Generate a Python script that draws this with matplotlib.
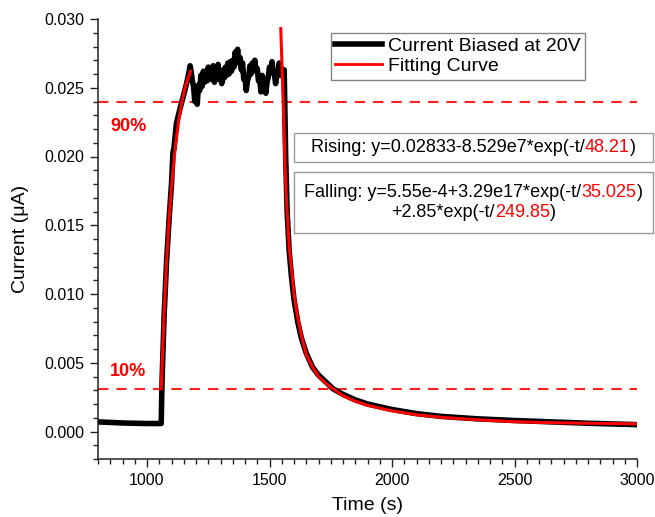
import matplotlib
matplotlib.use("Agg")
import matplotlib.pyplot as plt
from matplotlib.patches import Rectangle
from matplotlib.ticker import MultipleLocator, FormatStrFormatter
from matplotlib.offsetbox import TextArea, HPacker, VPacker, AnchoredOffsetbox

plt.rcParams["font.family"] = ["Liberation Sans", "DejaVu Sans"]

meas_t = [800, 850, 900, 950, 1000, 1030, 1058, 1060, 1062, 1070, 1080, 1090,
          1100, 1106, 1110, 1120, 1135, 1150, 1160, 1170, 1176,
          1180, 1185, 1190, 1195, 1200, 1205, 1210, 1215, 1220, 1225, 1230,
          1235, 1240, 1245, 1250, 1255, 1260, 1265, 1270, 1275, 1280, 1285,
          1290, 1295, 1300, 1305, 1310, 1315, 1320, 1325, 1330, 1335, 1340,
          1345, 1350, 1355, 1360, 1365, 1370, 1375, 1380, 1385, 1390, 1395,
          1400, 1405, 1410, 1415, 1420, 1425, 1430, 1435, 1440, 1445, 1450,
          1455, 1460, 1465, 1470, 1475, 1480, 1485, 1490, 1495, 1500, 1505,
          1510, 1515, 1520, 1525, 1530, 1535, 1540, 1545, 1550, 1555, 1560,
          1566, 1572, 1580, 1590, 1600, 1615, 1630, 1650, 1675, 1700, 1730,
          1760, 1800, 1850, 1900, 2000, 2100, 2200, 2350, 2500, 2650, 2800,
          3000]
meas_i = [0.00070, 0.00066, 0.00062, 0.00060, 0.00058, 0.00058, 0.00058,
          0.0025, 0.0040, 0.0085, 0.0124, 0.0154, 0.0180, 0.0203, 0.0206,
          0.0224, 0.0235, 0.0245, 0.0252, 0.0260, 0.0266,
          0.0262, 0.0255, 0.0251, 0.0240, 0.0246, 0.0238, 0.0252, 0.0248,
          0.0259, 0.0251, 0.0262, 0.0254, 0.0260, 0.0255, 0.0265, 0.0256,
          0.0263, 0.0258, 0.0266, 0.0254, 0.0262, 0.0258, 0.0267, 0.0256,
          0.0261, 0.0253, 0.0263, 0.0257, 0.0265, 0.0259, 0.0268, 0.0260,
          0.0269, 0.0262, 0.0270, 0.0265, 0.0276, 0.0271, 0.0278, 0.0268,
          0.0272, 0.0263, 0.0268, 0.0256, 0.0258, 0.0248, 0.0255, 0.0258,
          0.0266, 0.0260, 0.0268, 0.0263, 0.0270, 0.0262, 0.0264, 0.0255,
          0.0257, 0.0247, 0.0259, 0.0252, 0.0256, 0.0246, 0.0254, 0.0258,
          0.0265, 0.0261, 0.0269, 0.0262, 0.0260, 0.0253, 0.0260, 0.0262,
          0.0268, 0.0259, 0.0264, 0.0258, 0.0263,
          0.0200, 0.0160, 0.0132, 0.0112, 0.0096, 0.0080, 0.0068, 0.0057,
          0.0047, 0.0041, 0.0036, 0.0031, 0.0027, 0.0023, 0.0020, 0.0016,
          0.00130, 0.00110, 0.00092, 0.00080, 0.00070, 0.00060, 0.00050]

# fitted curves
rise_t = [1058, 1070, 1080, 1090, 1100, 1115, 1130, 1145, 1160, 1178]
rise_i = [0.0031, 0.0087, 0.0124, 0.0154, 0.0178, 0.0206, 0.0227, 0.0242,
          0.0253, 0.0262]
fall_t = [1546, 1555, 1563, 1570, 1580, 1590, 1600, 1615, 1630, 1650, 1675,
          1700, 1730, 1760, 1800, 1850, 1900, 2000, 2100, 2200, 2350, 2500,
          2650, 2800, 3000]
fall_i = [0.0293, 0.0245, 0.0195, 0.0166, 0.0135, 0.0118, 0.0100, 0.0083,
          0.0070, 0.0056, 0.0047, 0.0040, 0.0035, 0.0031, 0.0026, 0.0022,
          0.0019, 0.0015, 0.00122, 0.00103, 0.00085, 0.00071, 0.00064,
          0.00060, 0.00056]

level_90 = 0.0240
level_10 = 0.0031

rise_eq = [("Rising: y=0.02833-8.529e7*exp(-t/", "black"), ("48.21", "red"), (")", "black")]
fall_eq1 = [("Falling: y=5.55e-4+3.29e17*exp(-t/", "black"), ("35.025", "red"), (")", "black")]
fall_eq2 = [("+2.85*exp(-t/", "black"), ("249.85", "red"), (")", "black")]

W, H = 655, 517
fig = plt.figure(figsize=(W / 100, H / 100), dpi=100)
ax = fig.add_axes([98 / W, 1 - 459 / H, (637 - 98) / W, (459 - 19) / H])

ax.axhline(level_90, color="#ff2020", lw=1.5, ls=(0, (5, 3.8)), zorder=1)
ax.axhline(level_10, color="#ff2020", lw=1.5, ls=(0, (5, 3.8)), zorder=1)
ax.plot(meas_t, meas_i, color="black", lw=4, solid_joinstyle="round",
        label="Current Biased at 20V", zorder=2)
ax.plot(rise_t, rise_i, color="red", lw=2.2, label="Fitting Curve", zorder=3)
ax.plot(fall_t, fall_i, color="red", lw=2.2, zorder=3)

yt = ax.get_yaxis_transform()
ax.text(0.056, 0.0222, "90%", color="red", fontsize=13, fontweight="bold",
        ha="center", va="center", transform=yt)
ax.text(0.056, 0.0044, "10%", color="red", fontsize=13, fontweight="bold",
        ha="center", va="center", transform=yt)

ax.set_xlim(800, 3000)
ax.set_ylim(-0.002, 0.030)
ax.xaxis.set_major_locator(MultipleLocator(500))
ax.xaxis.set_minor_locator(MultipleLocator(50))
ax.yaxis.set_major_locator(MultipleLocator(0.005))
ax.yaxis.set_minor_locator(MultipleLocator(0.001))
ax.yaxis.set_major_formatter(FormatStrFormatter("%.3f"))
ax.set_xticks([1000, 1500, 2000, 2500, 3000])
for side in ("top", "right"):
    ax.spines[side].set_visible(False)
for side in ("left", "bottom"):
    ax.spines[side].set_linewidth(1.1)
    ax.spines[side].set_color("#222222")
ax.tick_params(which="major", direction="out", length=5.8, width=1, labelsize=11.5,
               pad=4, color="#222222")
ax.tick_params(which="minor", direction="out", length=3.6, width=1, color="#222222")

ax.set_xlabel("Time (s)", fontsize=14, labelpad=7)
ax.set_ylabel("Current (\u03bcA)", fontsize=14, labelpad=11)

leg = ax.legend(loc="upper left", bbox_to_anchor=(331 / W, 1 - 33 / H),
                bbox_transform=fig.transFigure, fontsize=14, frameon=True,
                fancybox=False, borderpad=0.22, handlelength=2.4,
                handletextpad=0.3, labelspacing=0.14, borderaxespad=0)
leg.get_frame().set_edgecolor("#666666")
leg.get_frame().set_linewidth(1)
leg.legend_handles[0].set_linewidth(4)
leg.legend_handles[1].set_linewidth(2)


def eq_line(parts, fs=13):
    kids = [TextArea(s, textprops=dict(color=c, fontsize=fs)) for s, c in parts]
    return HPacker(children=kids, align="baseline", pad=0, sep=0)


def eq_box(x0, y0, x1, y1, child):
    fig.add_artist(Rectangle((x0 / W, 1 - y1 / H), (x1 - x0) / W, (y1 - y0) / H,
                             transform=fig.transFigure, fill=False,
                             edgecolor="#999999", lw=1))
    box = AnchoredOffsetbox(loc="center", child=child, frameon=False, pad=0,
                            borderpad=0,
                            bbox_to_anchor=((x0 + x1) / 2 / W, 1 - (y0 + y1) / 2 / H),
                            bbox_transform=fig.transFigure)
    ax.add_artist(box)


eq_box(294, 133, 653, 162, eq_line(rise_eq))
eq_box(294, 172, 653, 233,
       VPacker(children=[eq_line(fall_eq1), eq_line(fall_eq2)],
               align="center", pad=0, sep=1.5))

fig.savefig("out.png", dpi=100)
